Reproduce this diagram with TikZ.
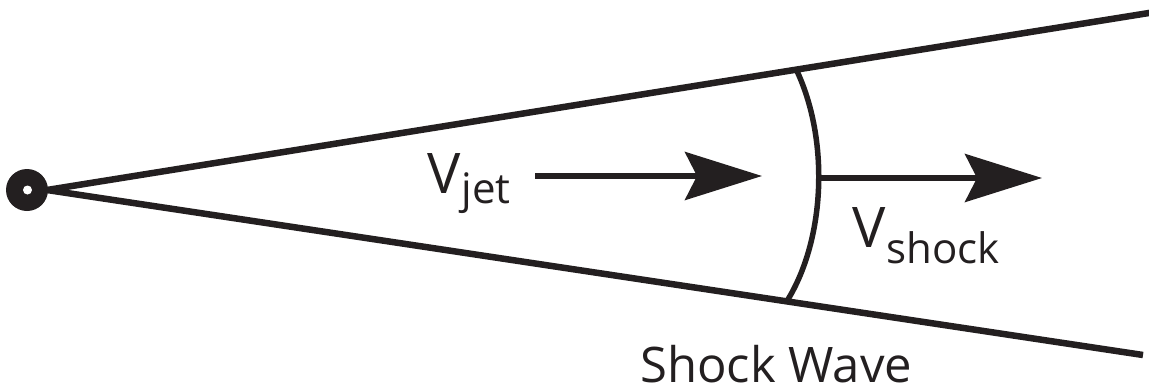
\documentclass[tikz,border=0pt]{standalone}
\usepackage{fontspec}
\setmainfont{Open Sans}
\usetikzlibrary{arrows.meta}
\definecolor{ink}{HTML}{231F20}
\tikzset{
  coneline/.style={draw=ink, line width=6.5pt},
  shockfront/.style={draw=ink, line width=5.5pt},
  velarrow/.style={draw=ink, line width=5.5pt, -{Stealth[length=77pt,width=48pt,inset=12pt]}},
  lbl/.style={inner sep=0pt, text=ink, anchor=base west},
}
\newcommand{\bigtxt}{\fontsize{56}{56}\selectfont}
\newcommand{\subtxt}{\fontsize{42}{42}\selectfont}
\begin{document}
\begin{tikzpicture}[x=1pt,y=-1pt]
  \useasboundingbox (0,0) rectangle (1149,388);
  % apex dot
  \fill[ink] (27,190) circle[radius=21pt];
  \fill[white] (27.5,190) circle[radius=4.5pt];
  \coordinate (apex) at (47,190);
  \coordinate (upend) at (1152,12.5);
  \coordinate (lowend) at (1143,355);
  \draw[coneline] (apex) -- (upend);
  \draw[coneline] (apex) -- (lowend);
  % shock front
  \coordinate (arctop) at (796,69);
  \coordinate (arcbot) at (787,301);
  \draw[shockfront] (arctop) .. controls (830,140) and (825,240) .. (arcbot);
  % arrows
  \coordinate (jetstart) at (535,176);
  \coordinate (jettip) at (762,176);
  \draw[velarrow] (jetstart) -- (jettip);
  \coordinate (shockstart) at (816,178);
  \coordinate (shocktip) at (1042,178);
  \draw[velarrow] (shockstart) -- (shocktip);
  % labels
  \node[lbl] (vjet) at (427,193) {\bigtxt V\kern1pt\raisebox{-10pt}{\subtxt jet}};
  \node[lbl] (vshock) at (852,247) {\bigtxt V\kern1pt\raisebox{-16pt}{\subtxt shock}};
  \node[lbl] (wave) at (640,382) {\fontsize{49}{49}\selectfont Shock Wave};
\end{tikzpicture}
\end{document}
